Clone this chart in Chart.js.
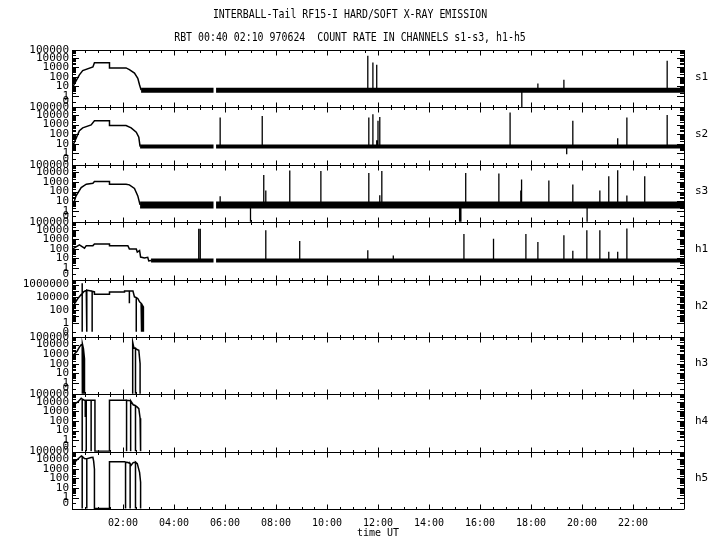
<!DOCTYPE html>
<html>
<head>
<meta charset="utf-8">
<script src="https://cdn.jsdelivr.net/npm/chart.js@4"></script>
<style>
    html, body { margin: 0; background: #fff; }
    canvas { display: block; }
</style>
</head>
<body>
<canvas id="xrayChart" width="720" height="550" style="width:720px;height:550px"></canvas>
<script>
// Titres et étiquettes
const titleLines = ['INTERBALL-Tail RF15-I HARD/SOFT X-RAY EMISSION', 'RBT 00:40 02:10 970624  COUNT RATE IN CHANNELS s1-s3, h1-h5'];
const channels = ['s1', 's2', 's3', 'h1', 'h2', 'h3', 'h4', 'h5'];
const hourTicks = [2, 4, 6, 8, 10, 12, 14, 16, 18, 20, 22];
const hourLabels = ['02:00', '04:00', '06:00', '08:00', '10:00', '12:00', '14:00', '16:00', '18:00', '20:00', '22:00'];
const sTickVals = [-0.6, 0, 1, 2, 3, 4, 4.8];
const sTickText = ['0', '1', '10', '100', '1000', '10000', '100000'];
const h2TickVals = [-1.4, 0, 2, 4, 6];
const h2TickText = ['0', '1', '100', '10000', '1000000'];

// heures sans données (trou commun)
const gapFrom = 5.55;
const gapTo = 5.65;

// s1
const s1Time = [0.03, 0.29, 0.42, 0.82, 0.88, 1.47, 1.47, 2.12, 2.25, 2.45, 2.58, 2.65, 2.71];
const s1Rate = [9, 160, 440, 1070, 2900, 2900, 850, 850, 550, 245, 70, 14, 4];
const s1Base = 4;
const s1SpikeTime = [11.6, 11.8, 11.95, 17.64, 18.27, 19.29, 23.34];
const s1SpikePeak = [16000, 3200, 1800, 0, 20, 50, 4800];

// s2
const s2Time = [0.03, 0.29, 0.42, 0.75, 0.88, 1.47, 1.47, 2.12, 2.32, 2.52, 2.62, 2.67];
const s2Rate = [6, 230, 450, 930, 2450, 2450, 800, 800, 450, 160, 47, 5];
const s2Base = 5;
const s2SpikeTime = [5.81, 7.46, 11.64, 11.8, 11.95, 12.0, 12.07, 17.18, 19.4, 19.64, 21.4, 21.76, 23.34];
const s2SpikePeak = [5400, 7900, 5400, 12000, 23, 2500, 6300, 18000, 0.8, 2500, 37, 5400, 10000];

// s3
const s3Time = [0.03, 0.16, 0.36, 0.56, 0.82, 0.88, 1.47, 1.47, 2.12, 2.25, 2.45, 2.58, 2.67];
const s3Rate = [3, 35, 260, 590, 740, 1120, 1120, 590, 590, 500, 210, 35, 4];
const s3Base = 4;
const s3SpikeTime = [5.81, 7.0, 7.52, 7.6, 8.54, 9.76, 11.64, 12.07, 12.15, 15.2, 15.25, 15.44, 16.74, 17.6, 17.63, 18.7, 19.64, 20.2, 20.7, 21.05, 21.4, 21.76, 22.46];
const s3SpikePeak = [32, 0, 5200, 126, 16000, 14000, 8500, 40, 14000, 0, 0, 8500, 7900, 126, 1800, 1450, 550, 0, 126, 4000, 17000, 38, 4000];

// h1
const h1Time = [0.03, 0.29, 0.49, 0.56, 0.82, 0.88, 1.47, 1.47, 2.19, 2.25, 2.52, 2.56, 2.65, 2.69, 2.84, 2.97, 3.01, 3.1];
const h1Rate = [100, 260, 120, 220, 220, 320, 320, 220, 220, 100, 100, 47, 68, 14, 11, 13, 5.5, 6];
const h1Base = 6;
const h1SpikeTime = [4.97, 5.03, 7.6, 8.93, 11.6, 12.6, 15.37, 16.53, 17.8, 18.27, 19.29, 19.64, 20.19, 20.7, 21.05, 21.4, 21.76];
const h1SpikePeak = [13000, 13000, 9000, 660, 74, 20, 3700, 1150, 3700, 520, 2750, 63, 9000, 9000, 50, 50, 14000];

// h2 .. h5 (canaux durs, seulement au début)
const h2Time = [0.03, 0.1, 0.23, 0.36, 0.4, 0.4, 0.4, 0.4, 0.45, 0.56, 0.58, 0.58, 0.58, 0.75, 0.79, 0.79, 0.79, 0.88, 0.88, 1.47, 1.47, 2.06, 2.06, 2.25, 2.25, 2.25, 2.39, 2.45, 2.52, 2.52, 2.52, 2.58, 2.65, 2.71, 2.71, 2.71, 2.74, 2.74, 2.74, 2.77, 2.77, 2.77, 2.8, 2.8];
const h2Rate = [52, 1070, 6600, 28000, 40000, 0, 1600000, 40000, 71000, 130000, 130000, 0, 130000, 100000, 90000, 0, 90000, 71000, 32000, 32000, 71000, 71000, 100000, 100000, 1200, 100000, 100000, 12000, 9000, 0, 9000, 6600, 2000, 1200, 0, 1200, 800, 0, 800, 500, 0, 500, 320, 0];

const h3Time = [0.03, 0.2, 0.29, 0.36, 0.4, 0.4, 0.4, 0.42, 0.45, 0.45, 0.45, 0.49, 0.49, 1.5, 2.38, 2.38, 2.43, 2.49, 2.49, 2.49, 2.55, 2.62, 2.67, 2.67];
const h3Rate = [720, 2000, 5400, 9300, 9300, 0, 9300, 12000, 3500, 0, 3500, 320, 0, null, 0, 18000, 4000, 4000, 0, 4000, 3000, 2500, 100, 0];

const h4Time = [0.03, 0.23, 0.36, 0.4, 0.4, 0.4, 0.48, 0.52, 0.52, 0.52, 0.56, 0.56, 0.56, 0.75, 0.75, 0.75, 0.9, 0.9, 1.47, 1.47, 2.14, 2.14, 2.14, 2.3, 2.3, 2.3, 2.4, 2.49, 2.49, 2.49, 2.55, 2.62, 2.67, 2.69];
const h4Rate = [4700, 10000, 24000, 20000, 0, 20000, 15000, 15000, 270, 15000, 15000, 0, 15000, 15000, 0, 15000, 15000, 0, 0, 15000, 15000, 0, 15000, 13000, 0, 13000, 5000, 4000, 0, 4000, 3000, 2000, 200, 0];

const h5Time = [0.03, 0.2, 0.36, 0.4, 0.4, 0.4, 0.49, 0.58, 0.58, 0.58, 0.75, 0.82, 0.85, 0.88, 0.88, 1.47, 1.47, 2.06, 2.1, 2.1, 2.1, 2.2, 2.28, 2.28, 2.28, 2.32, 2.4, 2.49, 2.49, 2.49, 2.56, 2.65, 2.69, 2.69];
const h5Rate = [3000, 9000, 22000, 20000, 0, 20000, 12000, 11000, 0, 11000, 15000, 16000, 6000, 900, 0, 0, 5400, 5400, 5000, 0, 5000, 4500, 3500, 0, 3500, 2400, 4500, 5000, 0, 5000, 3500, 430, 40, 0];

const series = {
    s1: { time: s1Time, rate: s1Rate, base: s1Base, spikeTime: s1SpikeTime, spikePeak: s1SpikePeak },
    s2: { time: s2Time, rate: s2Rate, base: s2Base, spikeTime: s2SpikeTime, spikePeak: s2SpikePeak },
    s3: { time: s3Time, rate: s3Rate, base: s3Base, spikeTime: s3SpikeTime, spikePeak: s3SpikePeak },
    h1: { time: h1Time, rate: h1Rate, base: h1Base, spikeTime: h1SpikeTime, spikePeak: h1SpikePeak },
    h2: { time: h2Time, rate: h2Rate },
    h3: { time: h3Time, rate: h3Rate },
    h4: { time: h4Time, rate: h4Rate },
    h5: { time: h5Time, rate: h5Rate }
};

// épaisseur de la bande de bruit
const bandWidth = { s1: 5, s2: 4, s3: 7, h1: 4 };
const fontMono = '"DejaVu Sans Mono", "Liberation Mono", monospace';

const zeroLevel = p => p === 'h2' ? -1.4 : -1.15;
const lg = (v, p) => v === null ? null : (v > 0 ? Math.log10(v) : zeroLevel(p));

const datasets = [];
channels.forEach(p => {
    const d = series[p];
    datasets.push({
        yAxisID: p,
        data: d.time.map((t, i) => ({ x: t, y: lg(d.rate[i], p) })),
        borderColor: '#000', borderWidth: 1.5, pointRadius: 0, tension: 0
    });
    if (d.base !== undefined) {
        const start = d.time[d.time.length - 1];
        const b = lg(d.base, p);
        datasets.push({
            yAxisID: p,
            data: [{ x: start, y: b }, { x: gapFrom, y: b }, { x: gapFrom, y: null }, { x: gapTo, y: b }, { x: 24, y: b }],
            borderColor: '#000', borderWidth: bandWidth[p], borderCapStyle: 'butt', pointRadius: 0
        });
        const pts = [];
        d.spikeTime.forEach((t, i) => {
            pts.push({ x: t, y: b }, { x: t, y: lg(d.spikePeak[i], p) }, { x: t, y: null });
        });
        datasets.push({
            yAxisID: p, data: pts,
            borderColor: '#000', borderWidth: 1.3, pointRadius: 0
        });
    }
});

const scales = {
    x: {
        type: 'linear', position: 'bottom', min: 0, max: 24,
        afterBuildTicks: s => { s.ticks = hourTicks.map(v => ({ value: v })); },
        afterFit: s => { s.height = 30; s.paddingLeft = 0; s.paddingRight = 0; },
        grid: { display: false, drawTicks: false, tickLength: 0 },
        border: { display: false },
        ticks: { autoSkip: false, maxRotation: 0, padding: 8, color: '#000',
                 font: { family: fontMono, size: 10 }, callback: (v, i) => hourLabels[i] },
        title: { display: true, text: 'time UT', color: '#000', padding: 0,
                 font: { family: fontMono, size: 10 } }
    }
};
// la pile des axes se remplit de bas en haut : on ajoute h5 en premier
channels.slice().reverse().forEach(p => {
    const vals = p === 'h2' ? h2TickVals : sTickVals;
    const text = p === 'h2' ? h2TickText : sTickText;
    scales[p] = {
        type: 'linear', position: 'left', stack: 'rates', stackWeight: 1,
        min: p === 'h2' ? -2.2 : -1.2,
        max: p === 'h2' ? 6.8 : 4.8,
        afterBuildTicks: s => { s.ticks = vals.map(v => ({ value: v })); },
        afterFit: s => { s.width = 72; s.paddingTop = 0; s.paddingBottom = 0; },
        grid: { display: false, drawTicks: false, tickLength: 0 },
        border: { display: true, color: '#000', width: 1 },
        ticks: { autoSkip: false, padding: 3, color: '#000',
                 font: { family: fontMono, size: 11 }, callback: (v, i) => text[i] }
    };
});

// cadre, graduations et textes
const decor = {
    id: 'decor',
    afterDraw(chart) {
        const { ctx, chartArea: a, scales: sc } = chart;
        const xs = sc.x;
        ctx.save();
        ctx.strokeStyle = '#000';
        ctx.lineWidth = 1;
        ctx.beginPath();
        const edges = channels.map(p => sc[p].top).concat([a.bottom]);
        edges.forEach((ey, k) => {
            const y = Math.round(ey) + 0.5;
            ctx.moveTo(a.left, y);
            ctx.lineTo(a.right, y);
            for (let t = 0; t <= 24; t += 0.5) {
                const px = Math.round(xs.getPixelForValue(t)) + 0.5;
                const len = t % 2 === 0 ? 5 : 2.5;
                const up = k === 0 ? 0 : len;
                const down = k === edges.length - 1 ? 0 : len;
                ctx.moveTo(px, y - up);
                ctx.lineTo(px, y + down);
            }
        });
        ctx.moveTo(Math.round(a.right) + 0.5, a.top);
        ctx.lineTo(Math.round(a.right) + 0.5, a.bottom);
        channels.forEach(p => {
            const s = sc[p];
            const marks = [zeroLevel(p) + (p === 'h2' ? 0 : 0.55)];
            for (let d = 0; d <= Math.floor(s.max); d++) {
                for (let k = 1; k <= 9; k++) {
                    const v = d + Math.log10(k);
                    if (v < s.max) marks.push(k === 1 ? -100 - v : v);
                }
            }
            marks.forEach(m => {
                const major = m <= -100;
                const v = major ? -100 - m : m;
                const py = Math.round(s.getPixelForValue(v)) + 0.5;
                const len = major ? 7 : 4;
                ctx.moveTo(a.left, py); ctx.lineTo(a.left + len, py);
                ctx.moveTo(a.right, py); ctx.lineTo(a.right - len, py);
            });
        });
        ctx.stroke();

        ctx.fillStyle = '#000';
        ctx.font = '11px ' + fontMono;
        ctx.textAlign = 'center';
        ctx.textBaseline = 'middle';
        titleLines.forEach((line, i) => {
            ctx.save();
            ctx.translate(350, 15 + 23 * i);
            ctx.scale(0.9, 1.15);
            ctx.fillText(line, 0, 0);
            ctx.restore();
        });
        ctx.textAlign = 'left';
        channels.forEach(p => {
            const s = sc[p];
            ctx.fillText(p, a.right + 11, (s.top + s.bottom) / 2 - 2);
        });
        ctx.restore();
    }
};

const ctx = document.getElementById('xrayChart').getContext('2d');
new Chart(ctx, {
    type: 'line',
    data: { datasets: datasets },
    options: {
        responsive: false,
        animation: false,
        layout: { padding: { top: 50, left: 0, right: 36, bottom: 11 } },
        plugins: {
            legend: { display: false },
            tooltip: { enabled: false }
        },
        scales: scales
    },
    plugins: [decor]
});
</script>
</body>
</html>
